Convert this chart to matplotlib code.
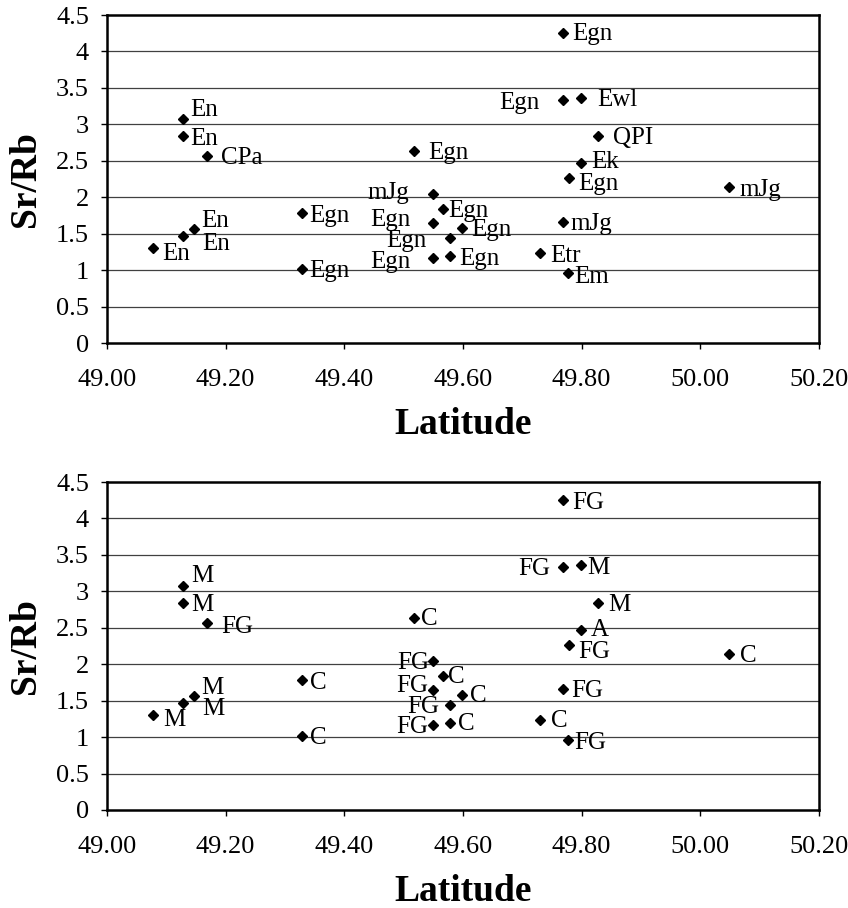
import matplotlib
matplotlib.use("Agg")
import matplotlib.pyplot as plt
from matplotlib.ticker import FuncFormatter

# ---------------- data ----------------
latitude = [49.128, 49.128, 49.168, 49.146, 49.128, 49.077,
            49.328, 49.328, 49.518, 49.549, 49.567, 49.549,
            49.599, 49.578, 49.549, 49.578, 49.768, 49.768,
            49.799, 49.827, 49.799, 49.778, 50.048, 49.768,
            49.729, 49.777]
sr_rb = [3.08, 2.84, 2.57, 1.57, 1.47, 1.30,
         1.78, 1.02, 2.63, 2.04, 1.84, 1.65,
         1.58, 1.44, 1.16, 1.20, 4.25, 3.34,
         3.36, 2.84, 2.47, 2.27, 2.14, 1.66,
         1.23, 0.96]
labels_top = ["En", "En", "CPa", "En", "En", "En",
              "Egn", "Egn", "Egn", "mJg", "Egn", "Egn",
              "Egn", "Egn", "Egn", "Egn", "Egn", "Egn",
              "Ewl", "QPI", "Ek", "Egn", "mJg", "mJg",
              "Etr", "Em"]
labels_bottom = ["M", "M", "FG", "M", "M", "M",
                 "C", "C", "C", "FG", "C", "FG",
                 "C", "FG", "FG", "C", "FG", "FG",
                 "M", "M", "A", "FG", "C", "FG",
                 "C", "FG"]
x_ticks = [49.00, 49.20, 49.40, 49.60, 49.80, 50.00, 50.20]
y_ticks = [0, 0.5, 1, 1.5, 2, 2.5, 3, 3.5, 4, 4.5]

# label placement (pixels: dx right, dy down; 'r' = text to the left of marker)
offs_top = [(7, -9, 'l'), (7, 3, 'l'), (14, 2, 'l'), (8, -8, 'l'), (19, 8, 'l'), (10, 6, 'l'),
            (8, 3, 'l'), (8, 2, 'l'), (14, 2, 'l'), (-24, -1, 'r'), (5, 2, 'l'), (-22, -3, 'r'),
            (9, 2, 'l'), (-23, 3, 'r'), (-22, 4, 'r'), (9, 3, 'l'), (10, 1, 'l'), (-23, 3, 'r'),
            (16, 2, 'l'), (15, 2, 'l'), (10, -1, 'l'), (10, 6, 'l'), (11, 3, 'l'), (8, 2, 'l'),
            (11, 2.5, 'l'), (6, 3.5, 'l')]
offs_bottom = [(8, -9.5, 'l'), (8, 2, 'l'), (15, 4, 'l'), (8, -8, 'l'), (19, 6, 'l'), (10.5, 5, 'l'),
               (8, 3, 'l'), (8, 2, 'l'), (7, 0.5, 'l'), (-4, 1.5, 'r'), (5, 1.5, 'l'), (-5, -4, 'r'),
               (8, 1, 'l'), (-11, 2, 'r'), (-5, 1.5, 'r'), (8, 1, 'l'), (10, 2.5, 'l'), (-12.5, 2, 'r'),
               (6, 2.5, 'l'), (11, 2.5, 'l'), (10, 0, 'l'), (10, 7, 'l'), (11, 1.5, 'l'), (8.5, 1.5, 'l'),
               (11, 1, 'l'), (6.5, 2.5, 'l')]

plt.rcParams['font.family'] = ['Liberation Serif', 'DejaVu Serif']

fig = plt.figure(figsize=(8.48, 9.08), dpi=100)
W, H = 848, 908
ax_top = fig.add_axes([107 / W, 1 - 343 / H, 712 / W, 328 / H])
ax_bot = fig.add_axes([107 / W, 1 - 810 / H, 712 / W, 328 / H])


def draw(ax, labels, offs):
    ax.set_xlim(x_ticks[0], x_ticks[-1])
    ax.set_ylim(y_ticks[0], y_ticks[-1])
    ax.set_xticks(x_ticks)
    ax.set_yticks(y_ticks)
    ax.xaxis.set_major_formatter(FuncFormatter(lambda v, p: f"{v:.2f}"))
    ax.yaxis.set_major_formatter(FuncFormatter(lambda v, p: f"{v:g}"))
    for yv in y_ticks[1:-1]:
        ax.axhline(yv, color='0.25', lw=0.9, zorder=1)
    ax.plot(latitude, sr_rb, linestyle='none', marker='D', markersize=5,
            color='black', zorder=3)
    for x, y, t, (dx, dy, side) in zip(latitude, sr_rb, labels, offs):
        ax.annotate(t, (x, y), xytext=(dx, -dy), textcoords='offset pixels',
                    ha='left' if side == 'l' else 'right', va='center',
                    fontsize=18, color='black', zorder=4)
    for sp in ax.spines.values():
        sp.set_linewidth(1.8)
        sp.set_color('black')
    ax.tick_params(axis='both', direction='out', length=4, width=1.0,
                   labelsize=19, colors='black')
    ax.tick_params(axis='x', pad=15)
    ax.tick_params(axis='y', pad=9)
    ax.set_xlabel("Latitude", fontsize=27, fontweight='bold', labelpad=11)
    ax.set_ylabel("Sr/Rb", fontsize=27, fontweight='bold', labelpad=9)


draw(ax_top, labels_top, offs_top)
draw(ax_bot, labels_bottom, offs_bottom)

fig.savefig("out.png", dpi=100, facecolor='white')
